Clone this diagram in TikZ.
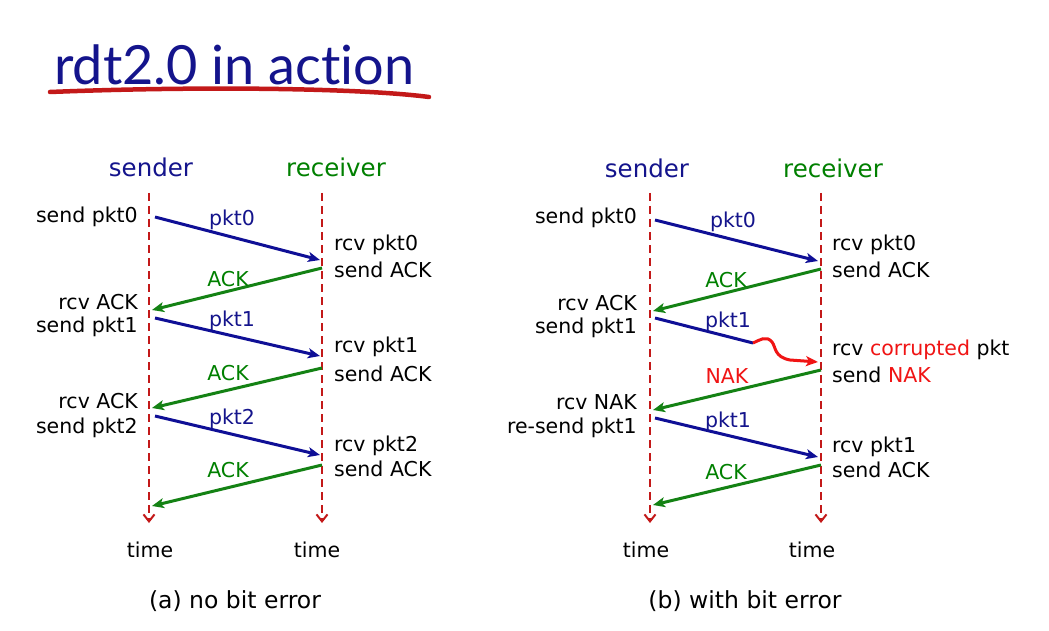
\documentclass[tikz,border=0pt]{standalone}
\usepackage{fontspec}
\setmainfont{DejaVu Sans}
\newfontfamily\titlefont{Lato}
\usetikzlibrary{arrows.meta}
\definecolor{navy}{RGB}{20,20,140}
\definecolor{arrblue}{RGB}{15,15,150}
\definecolor{dgreen}{RGB}{0,128,0}
\definecolor{arrgreen}{RGB}{20,130,20}
\definecolor{dred}{RGB}{195,25,25}
\definecolor{brred}{RGB}{240,20,20}
\begin{document}
\begin{tikzpicture}[x=1pt,y=-1pt,
  lbl/.style={font=\fontsize{20.5}{22}\selectfont, inner sep=0pt},
  head/.style={font=\fontsize{24.5}{26}\selectfont, inner sep=0pt},
  captxt/.style={font=\fontsize{23.5}{25}\selectfont, inner sep=0pt},
  tline/.style={dred, line width=2pt, dash pattern=on 8pt off 5pt, -{Straight Barb[length=7pt,width=11pt,line width=2pt]}},
  msgb/.style={arrblue, line width=3pt, -{Stealth[length=12pt,width=10pt,inset=3pt]}},
  msgg/.style={arrgreen, line width=3pt, -{Stealth[length=12pt,width=10pt,inset=3pt]}},
]
\useasboundingbox (0,0) rectangle (1049,631);
\fill[white] (0,0) rectangle (1049,631);

% title
\node[anchor=base west, inner sep=0pt, text=navy, font=\titlefont\fontsize{54}{58}\selectfont] (title) at (54,85) {rdt2.0 in act\kern0pt ion};
\draw[dred, line width=4.5pt, line cap=round] (50,92) .. controls (200,86) and (360,88) .. (429,97);

% ---------------- panel (a) ----------------
\node[head, text=navy] (sa) at (151,167) {sender};
\node[head, text=dgreen] (ra) at (336,167) {receiver};
\coordinate (sat) at (149,193); \coordinate (sab) at (149,523);
\coordinate (rat) at (322,193); \coordinate (rab) at (322,523);
\draw[tline] (sat) -- (sab);
\draw[tline] (rat) -- (rab);

\coordinate (a1s) at (155,217); \coordinate (a1r) at (320,260);
\coordinate (a2r) at (322,268); \coordinate (a2s) at (152,310);
\coordinate (a3s) at (155,318); \coordinate (a3r) at (320,356);
\coordinate (a4r) at (322,368); \coordinate (a4s) at (152,408);
\coordinate (a5s) at (155,416); \coordinate (a5r) at (320,455);
\coordinate (a6r) at (322,465); \coordinate (a6s) at (152,506);
\draw[msgb] (a1s) -- (a1r);
\draw[msgg] (a2r) -- (a2s);
\draw[msgb] (a3s) -- (a3r);
\draw[msgg] (a4r) -- (a4s);
\draw[msgb] (a5s) -- (a5r);
\draw[msgg] (a6r) -- (a6s);

\node[lbl, text=navy] (la1) at (232,220) {pkt0};
\node[lbl, text=dgreen] (la2) at (228,279) {ACK};
\node[lbl, text=navy] (la3) at (232,321) {pkt1};
\node[lbl, text=dgreen] (la4) at (228,373) {ACK};
\node[lbl, text=navy] (la5) at (232,419) {pkt2};
\node[lbl, text=dgreen] (la6) at (228,470) {ACK};

\node[lbl, anchor=east] (as1) at (138,217) {send pkt0};
\node[lbl, anchor=east] (as2) at (138,302) {rcv ACK};
\node[lbl, anchor=east] (as3) at (138,327) {send pkt1};
\node[lbl, anchor=east] (as4) at (138,401) {rcv ACK};
\node[lbl, anchor=east] (as5) at (138,428) {send pkt2};

\node[lbl, anchor=west] (ar1) at (334,245) {rcv pkt0};
\node[lbl, anchor=west] (ar2) at (334,270) {send ACK};
\node[lbl, anchor=west] (ar3) at (334,347) {rcv pkt1};
\node[lbl, anchor=west] (ar4) at (334,374) {send ACK};
\node[lbl, anchor=west] (ar5) at (334,446) {rcv pkt2};
\node[lbl, anchor=west] (ar6) at (334,469) {send ACK};

\node[lbl] (at1) at (150,550) {time};
\node[lbl] (at2) at (317,550) {time};
\node[captxt] (capa) at (235,601) {(a) no bit error};

% ---------------- panel (b) ----------------
\node[head, text=navy] (sb) at (647,168) {sender};
\node[head, text=dgreen] (rb) at (833,168) {receiver};
\coordinate (sbt) at (650,193); \coordinate (sbb) at (650,523);
\coordinate (rbt) at (821,193); \coordinate (rbb) at (821,523);
\draw[tline] (sbt) -- (sbb);
\draw[tline] (rbt) -- (rbb);

\coordinate (b1s) at (655,220); \coordinate (b1r) at (818,261);
\coordinate (b2r) at (821,269); \coordinate (b2s) at (653,311);
\coordinate (b3s) at (655,318); \coordinate (b3m) at (753,343); \coordinate (b3r) at (818,362);
\coordinate (b4r) at (821,370); \coordinate (b4s) at (653,410);
\coordinate (b5s) at (655,418); \coordinate (b5r) at (818,457);
\coordinate (b6r) at (821,465); \coordinate (b6s) at (653,505);
\draw[msgb] (b1s) -- (b1r);
\draw[msgg] (b2r) -- (b2s);
\draw[arrblue, line width=3pt] (b3s) -- (b3m);
\draw[brred, line width=3pt, -{Stealth[length=12pt,width=10pt,inset=3pt]}] (b3m) .. controls (760,340) and (766,335) .. (772,342) .. controls (776,347) and (774,357) .. (790,360) -- (b3r);
\draw[msgg] (b4r) -- (b4s);
\draw[msgb] (b5s) -- (b5r);
\draw[msgg] (b6r) -- (b6s);

\node[lbl, text=navy] (lb1) at (733,222) {pkt0};
\node[lbl, text=dgreen] (lb2) at (726,280) {ACK};
\node[lbl, text=navy] (lb3) at (728,322) {pkt1};
\node[lbl, text=brred] (lb4) at (727,376) {NAK};
\node[lbl, text=navy] (lb5) at (728,422) {pkt1};
\node[lbl, text=dgreen] (lb6) at (726,472) {ACK};

\node[lbl, anchor=east] (bs1) at (637,218) {send pkt0};
\node[lbl, anchor=east] (bs2) at (637,303) {rcv ACK};
\node[lbl, anchor=east] (bs3) at (637,328) {send pkt1};
\node[lbl, anchor=east] (bs4) at (637,402) {rcv NAK};
\node[lbl, anchor=east] (bs5) at (637,428) {re-send pkt1};

\node[lbl, anchor=west] (br1) at (832,245) {rcv pkt0};
\node[lbl, anchor=west] (br2) at (832,270) {send ACK};
\node[lbl, anchor=west] (br3) at (832,350) {rcv \textcolor{brred}{corrupted} pkt};
\node[lbl, anchor=west] (br4) at (832,375) {send \textcolor{brred}{NAK}};
\node[lbl, anchor=west] (br5) at (832,447) {rcv pkt1};
\node[lbl, anchor=west] (br6) at (832,470) {send ACK};

\node[lbl] (bt1) at (646,550) {time};
\node[lbl] (bt2) at (812,550) {time};
\node[captxt] (capb) at (745,601) {(b) with bit error};
\end{tikzpicture}
\end{document}
